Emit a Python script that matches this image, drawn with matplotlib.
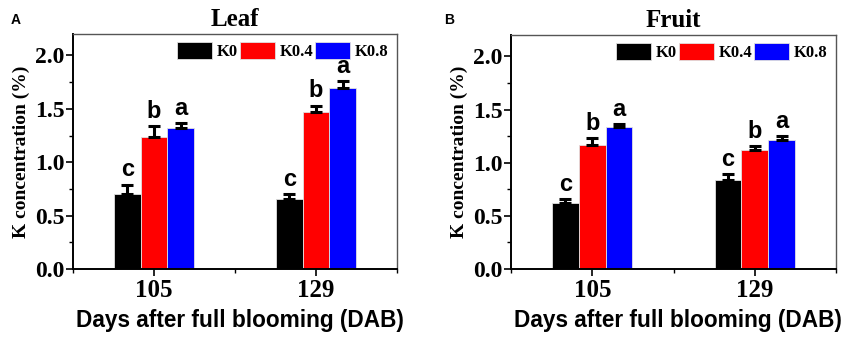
import matplotlib.pyplot as plt
import numpy as np
from matplotlib.ticker import MultipleLocator, FixedLocator

# ===== DATOS =====
days = ["105", "129"]
treatments = ["K0", "K0.4", "K0.8"]
colors = ["#000000", "#ff0000", "#0000ff"]
yticks = [0.0, 0.5, 1.0, 1.5, 2.0]

leaf_mean = [[0.70, 0.66], [1.24, 1.47], [1.32, 1.70]]
leaf_err = [[0.09, 0.04], [0.10, 0.06], [0.05, 0.06]]
leaf_letters = [["c", "c"], ["b", "b"], ["a", "a"]]

fruit_mean = [[0.62, 0.84], [1.17, 1.12], [1.34, 1.21]]
fruit_err = [[0.04, 0.05], [0.06, 0.04], [0.02, 0.04]]
fruit_letters = [["c", "c"], ["b", "b"], ["a", "a"]]

serif = "Liberation Serif"
sans = "Liberation Sans"


def draw_panel(ax, means, errs, letters, title):
    x = np.arange(1, len(days) + 1)
    width = 0.165
    for i, name in enumerate(treatments):
        pos = x + (i - 1) * width
        ax.bar(pos, means[i], width, color=colors[i], edgecolor="#e0e0e0",
               linewidth=0.6, label=name, zorder=2)
        ax.errorbar(pos, means[i], yerr=[np.zeros(len(days)), errs[i]],
                    fmt="none", ecolor="black", elinewidth=2.2, capsize=4,
                    capthick=2.2, zorder=3)
        for p, m, e, lt in zip(pos, means[i], errs[i], letters[i]):
            ax.text(p, m + e + 0.03, lt, ha="center", va="bottom",
                    fontsize=17, fontweight="bold", family=sans)

    ax.set_xlim(0.5, 2.5)
    ax.set_ylim(0, 2.2)
    ax.set_xticks(x)
    ax.set_xticklabels(days)
    ax.xaxis.set_minor_locator(FixedLocator([0.5, 1.5, 2.5]))
    ax.set_yticks(yticks)
    ax.set_yticklabels([f"{v:.1f}" for v in yticks])
    ax.yaxis.set_minor_locator(MultipleLocator(0.25))
    for lab in ax.get_xticklabels():
        lab.set_fontfamily(serif)
        lab.set_fontweight("bold")
        lab.set_fontsize(18)
    for lab in ax.get_yticklabels():
        lab.set_fontfamily(serif)
        lab.set_fontweight("bold")
        lab.set_fontsize(17)
    ax.tick_params(axis="both", which="major", direction="out", length=5,
                   width=1.2, top=False, right=False)
    ax.tick_params(axis="both", which="minor", direction="out", length=3,
                   width=1.0, top=False, right=False)
    ax.tick_params(axis="x", pad=2)
    ax.tick_params(axis="y", pad=1)

    for s in ["left", "bottom"]:
        ax.spines[s].set_linewidth(1.4)
        ax.spines[s].set_color("black")
    for s in ["top", "right"]:
        ax.spines[s].set_linewidth(1.0)
        ax.spines[s].set_color("#555555")

    ax.set_xlabel("Days after full blooming (DAB)", fontsize=16.3,
                  fontweight="bold", family=sans, labelpad=2)
    ax.xaxis.set_label_coords(0.515, -0.17)
    ax.set_ylabel("K concentration (%)", fontsize=14, fontweight="bold",
                  family=serif, labelpad=4)
    ax.set_title(title, fontsize=18, fontweight="bold", family=serif, pad=6)

    ax.legend(loc="upper right", ncol=3, frameon=False,
              prop={"family": serif, "weight": "bold", "size": 12},
              handlelength=2.1, handleheight=1.15, handletextpad=0.3,
              columnspacing=0.1, borderaxespad=0.3, borderpad=0.2)


fig = plt.figure(figsize=(8.51, 3.38), dpi=100)
ax1 = fig.add_axes([0.0858, 0.204, 0.3807, 0.695])
ax2 = fig.add_axes([0.6005, 0.204, 0.3819, 0.692])

draw_panel(ax1, leaf_mean, leaf_err, leaf_letters, "Leaf")
draw_panel(ax2, fruit_mean, fruit_err, fruit_letters, "Fruit")

fig.text(0.013, 0.93, "A", fontsize=10, fontweight="bold", family=sans)
fig.text(0.522, 0.93, "B", fontsize=10, fontweight="bold", family=sans)

fig.savefig("out.png", dpi=100)
